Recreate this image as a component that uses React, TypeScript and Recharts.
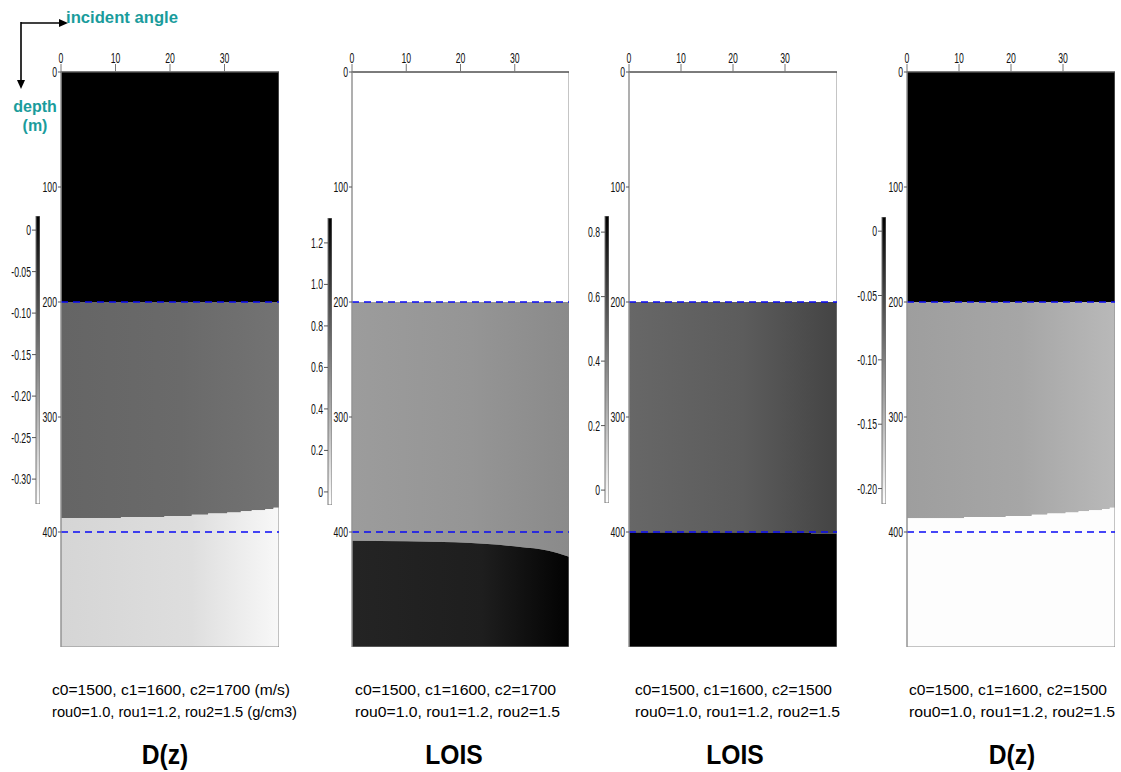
import React from 'react';
import { ComposedChart, Area, XAxis, YAxis, ReferenceArea, ReferenceLine } from 'recharts';

const FONT = '"Liberation Sans", Arial, Helvetica, sans-serif';

// ---------- data ----------
const angleTicks = [0, 10, 20, 30];
const angleLabels = ['0', '10', '20', '30'];
const depthTicks = [0, 100, 200, 300, 400];
const depthLabels = ['0', '100', '200', '300', '400'];
const interfaceDepths = [200, 400];

// lower reflector boundary (angle in deg, depth in m)
const dzAngles = [0, 11, 19, 24, 27, 30.5, 33, 35, 37.5, 39, 40];
const dzDepths = [388, 387, 386, 385, 384, 383, 382, 381, 380, 379, 379];
const lois1Angles = [0, 10, 19, 25, 31, 36, 38, 40];
const lois1Depths = [407.5, 408, 409, 410.5, 413, 416, 418.5, 421.5];
const lois2Angles = [0, 35, 40];
const lois2Depths = [400.5, 401.5, 401.5];

// colour bars
const cb1Ticks = [0, -0.05, -0.1, -0.15, -0.2, -0.25, -0.3];
const cb1Labels = ['0', '-0.05', '-0.10', '-0.15', '-0.20', '-0.25', '-0.30'];
const cb1Domain = [-0.33, 0.017];
const cb2Ticks = [0, 0.2, 0.4, 0.6, 0.8, 1.0, 1.2];
const cb2Labels = ['0', '0.2', '0.4', '0.6', '0.8', '1.0', '1.2'];
const cb2Domain = [-0.063, 1.32];
const cb3Ticks = [0, 0.2, 0.4, 0.6, 0.8];
const cb3Labels = ['0', '0.2', '0.4', '0.6', '0.8'];
const cb3Domain = [-0.04, 0.85];
const cb4Ticks = [0, -0.05, -0.1, -0.15, -0.2];
const cb4Labels = ['0', '-0.05', '-0.10', '-0.15', '-0.20'];
const cb4Domain = [-0.212, 0.011];

const captionsLine1 = [
  'c0=1500, c1=1600, c2=1700 (m/s)',
  'c0=1500, c1=1600, c2=1700',
  'c0=1500, c1=1600, c2=1500',
  'c0=1500, c1=1600, c2=1500',
];
const captionsLine2 = [
  'rou0=1.0, rou1=1.2, rou2=1.5 (g/cm3)',
  'rou0=1.0, rou1=1.2, rou2=1.5',
  'rou0=1.0, rou1=1.2, rou2=1.5',
  'rou0=1.0, rou1=1.2, rou2=1.5',
];
const titles = ['D(z)', 'LOIS', 'LOIS', 'D(z)'];

// ---------- styling / layout ----------
type Panel = {
  id: string;
  plotLeft: number;
  plotWidth: number;
  angles: number[];
  depths: number[];
  curve: 'stepAfter' | 'monotone' | 'linear';
  topFill: string;
  midGrad: string[];
  lowGrad: string[];
};

const panels: Panel[] = [
  {
    id: 'p1', plotLeft: 61, plotWidth: 218, angles: dzAngles, depths: dzDepths, curve: 'stepAfter',
    topFill: '#000000', midGrad: ['#656565', '#6a6a6a', '#737373'], lowGrad: ['#d5d5d5', '#dedede', '#f8f8f8'],
  },
  {
    id: 'p2', plotLeft: 352, plotWidth: 217, angles: lois1Angles, depths: lois1Depths, curve: 'monotone',
    topFill: '#ffffff', midGrad: ['#9c9c9c', '#959595', '#8a8a8a'], lowGrad: ['#242424', '#1e1e1e', '#020202'],
  },
  {
    id: 'p3', plotLeft: 629, plotWidth: 208, angles: lois2Angles, depths: lois2Depths, curve: 'stepAfter',
    topFill: '#ffffff', midGrad: ['#676767', '#5c5c5c', '#444444'], lowGrad: ['#000000', '#000000', '#000000'],
  },
  {
    id: 'p4', plotLeft: 907, plotWidth: 208, angles: dzAngles, depths: dzDepths, curve: 'stepAfter',
    topFill: '#000000', midGrad: ['#9e9e9e', '#a6a6a6', '#b9b9b9'], lowGrad: ['#fdfdfd', '#fdfdfd', '#fdfdfd'],
  },
];

const colorBars = [
  { id: 'c1', barLeft: 36, top: 216, bottom: 504, ticks: cb1Ticks, labels: cb1Labels, domain: cb1Domain },
  { id: 'c2', barLeft: 328, top: 218, bottom: 505, ticks: cb2Ticks, labels: cb2Labels, domain: cb2Domain },
  { id: 'c3', barLeft: 605, top: 216, bottom: 503, ticks: cb3Ticks, labels: cb3Labels, domain: cb3Domain },
  { id: 'c4', barLeft: 882, top: 217, bottom: 504, ticks: cb4Ticks, labels: cb4Labels, domain: cb4Domain },
];

const PLOT_TOP = 72;
const PLOT_H = 575;
const YW = 40;
const XH = 30;
const TEAL = '#1a9c9c';
const DASH = '#0a0af5';

function makeTick(values: number[], labels: string[], mode: 'x' | 'y') {
  return (props: any) => {
    const { x, y, payload } = props;
    const i = values.findIndex((v) => Math.abs(v - payload.value) < 1e-9);
    const label = i >= 0 ? labels[i] : String(payload.value);
    if (mode === 'x') {
      return (
        <g transform={`translate(${x},${y}) scale(0.62,1)`}>
          <text x={0} y={0} textAnchor="middle" fontSize={14} fontFamily={FONT} fill="#111">{label}</text>
        </g>
      );
    }
    return (
      <g transform={`translate(${x},${y}) scale(0.62,1)`}>
        <text x={0} y={5} textAnchor="end" fontSize={14} fontFamily={FONT} fill="#111">{label}</text>
      </g>
    );
  };
}

function PanelChart({ p }: { p: Panel }) {
  const data = p.angles.map((a, i) => ({ angle: a, depth: p.depths[i] }));
  const W = YW + p.plotWidth;
  const H = XH + PLOT_H;
  return (
    <div style={{ position: 'absolute', left: p.plotLeft - YW, top: PLOT_TOP - XH, width: W, height: H }}>
      <ComposedChart width={W} height={H} data={data} margin={{ top: 0, right: 0, bottom: 0, left: 0 }} style={{ overflow: 'visible' }}>
        <XAxis
          type="number" dataKey="angle" orientation="top" domain={[0, 40]} ticks={angleTicks}
          height={XH} tickSize={8} tickMargin={1} allowDataOverflow
          axisLine={{ stroke: '#333' }} tickLine={{ stroke: '#777' }}
          tick={makeTick(angleTicks, angleLabels, 'x')} interval={0}
        />
        <YAxis
          type="number" domain={[0, 500]} reversed ticks={depthTicks} width={YW} tickSize={3} tickMargin={1}
          axisLine={{ stroke: '#999' }} tickLine={{ stroke: '#555' }} allowDataOverflow
          tick={makeTick(depthTicks, depthLabels, 'y')} interval={0}
        />
        <ReferenceArea x1={0} x2={40} y1={0} y2={interfaceDepths[0]} fill={p.topFill} fillOpacity={1} stroke="none" ifOverflow="hidden" />
        <Area
          type={p.curve} dataKey={(d: any) => [interfaceDepths[0], d.depth]} stroke="none"
          fill={`url(#${p.id}mid)`} fillOpacity={1} isAnimationActive={false} dot={false} activeDot={false}
        />
        <Area
          type={p.curve} dataKey={(d: any) => [d.depth, 500]} stroke="none"
          fill={`url(#${p.id}low)`} fillOpacity={1} isAnimationActive={false} dot={false} activeDot={false}
        />
        <ReferenceArea x1={0} x2={40} y1={0} y2={500} fill="none" stroke="#8a8a8a" strokeWidth={1} ifOverflow="visible" />
        {interfaceDepths.map((d) => (
          <ReferenceLine key={d} y={d} stroke={DASH} strokeWidth={1.6} strokeDasharray="7 5" ifOverflow="visible" />
        ))}
      </ComposedChart>
    </div>
  );
}

function ColorBar({ c }: { c: any }) {
  const CBW = 35;
  const barW = 4;
  const H = c.bottom - c.top;
  const W = CBW + barW;
  return (
    <div style={{ position: 'absolute', left: c.barLeft - CBW, top: c.top, width: W, height: H }}>
      <ComposedChart width={W} height={H} data={[{ x: 0 }, { x: 1 }]} margin={{ top: 0, right: 0, bottom: 0, left: 0 }} style={{ overflow: 'visible' }}>
        <XAxis type="number" dataKey="x" domain={[0, 1]} hide height={0} />
        <YAxis
          type="number" domain={c.domain} ticks={c.ticks} width={CBW} tickSize={4} tickMargin={1}
          axisLine={false} tickLine={{ stroke: '#555' }} allowDataOverflow interval={0}
          tick={makeTick(c.ticks, c.labels, 'y')}
        />
        <ReferenceArea x1={0} x2={1} y1={c.domain[0]} y2={c.domain[1]} fill={`url(#${c.id}grad)`} fillOpacity={1} stroke="#777" strokeWidth={1} />
      </ComposedChart>
    </div>
  );
}

function Arrow() {
  return (
    <g>
      <line x1={21} y1={23} x2={60} y2={23} stroke="#000" strokeWidth={1.6} />
      <polygon points="68,23 59,19 59,27" fill="#000" />
      <line x1={21} y1={22} x2={21} y2={81} stroke="#000" strokeWidth={1.6} />
      <polygon points="21,89 17,80 25,80" fill="#000" />
    </g>
  );
}

const captionX = [52, 355, 635, 909];
const caption1W = [238, 201, 197, 198];
const caption2W = [245, 205, 205, 206];
const titleX = [165, 454, 735, 1012];

export default function App() {
  return (
    <div style={{ position: 'absolute', left: 0, top: 0, width: 1121, height: 772, background: '#fff', overflow: 'hidden', fontFamily: FONT }}>
      <svg width={0} height={0} style={{ position: 'absolute' }}>
        <defs>
          {panels.map((p) => (
            <React.Fragment key={p.id}>
              <linearGradient id={`${p.id}mid`} x1="0" y1="0" x2="1" y2="0">
                <stop offset="0" stopColor={p.midGrad[0]} />
                <stop offset="0.55" stopColor={p.midGrad[1]} />
                <stop offset="1" stopColor={p.midGrad[2]} />
              </linearGradient>
              <linearGradient id={`${p.id}low`} x1="0" y1="0" x2="1" y2="0">
                <stop offset="0" stopColor={p.lowGrad[0]} />
                <stop offset="0.6" stopColor={p.lowGrad[1]} />
                <stop offset="1" stopColor={p.lowGrad[2]} />
              </linearGradient>
            </React.Fragment>
          ))}
          {colorBars.map((c) => (
            <linearGradient key={c.id} id={`${c.id}grad`} x1="0" y1="0" x2="0" y2="1">
              <stop offset="0" stopColor="#000" />
              <stop offset="1" stopColor="#fff" />
            </linearGradient>
          ))}
        </defs>
      </svg>
      {panels.map((p) => <PanelChart key={p.id} p={p} />)}
      {colorBars.map((c) => <ColorBar key={c.id} c={c} />)}
      <svg width={1121} height={772} style={{ position: 'absolute', left: 0, top: 0, pointerEvents: 'none' }}>
        <Arrow />
        <text x={66} y={23} fill={TEAL} fontWeight="bold" fontSize={16} fontFamily={FONT} textLength={112} lengthAdjust="spacingAndGlyphs">incident angle</text>
        <text x={35} y={112} fill={TEAL} fontWeight="bold" fontSize={16} fontFamily={FONT} textAnchor="middle">depth</text>
        <text x={35} y={131} fill={TEAL} fontWeight="bold" fontSize={16} fontFamily={FONT} textAnchor="middle">(m)</text>
        {captionsLine1.map((t, i) => (
          <text key={'a' + i} x={captionX[i]} y={695} fontSize={15} fontFamily={FONT} fill="#000" textLength={caption1W[i]} lengthAdjust="spacingAndGlyphs">{t}</text>
        ))}
        {captionsLine2.map((t, i) => (
          <text key={'b' + i} x={captionX[i]} y={717} fontSize={15} fontFamily={FONT} fill="#000" textLength={caption2W[i]} lengthAdjust="spacingAndGlyphs">{t}</text>
        ))}
        {titles.map((t, i) => (
          <text key={'t' + i} x={titleX[i]} y={764} fontSize={28} fontWeight="bold" fontFamily={FONT} fill="#000" textAnchor="middle" transform={`translate(${titleX[i]},0) scale(0.88,1) translate(${-titleX[i]},0)`}>{t}</text>
        ))}
      </svg>
    </div>
  );
}
